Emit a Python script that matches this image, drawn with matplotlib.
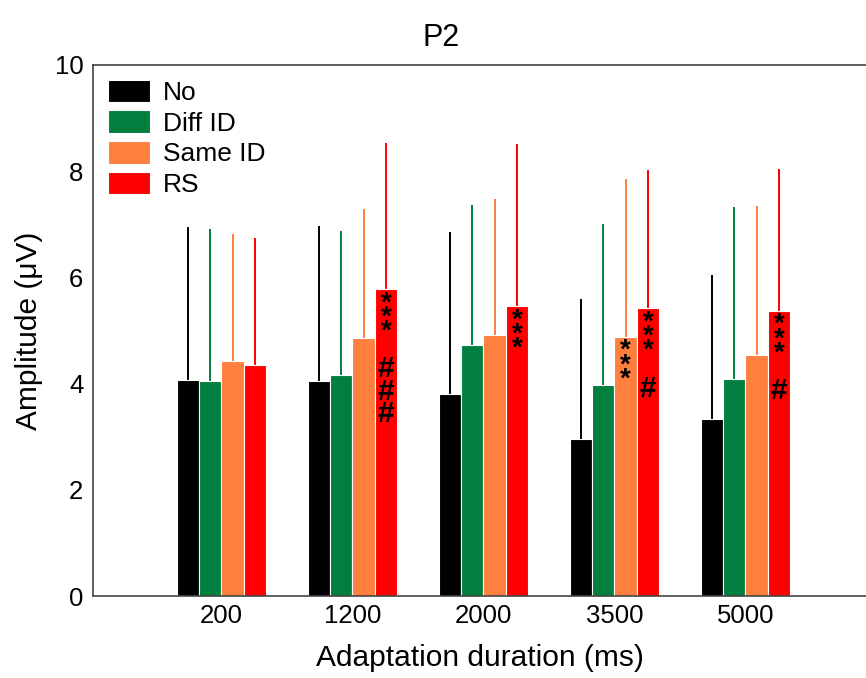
import numpy as np
import matplotlib.pyplot as plt
import matplotlib

matplotlib.rcParams['font.family'] = ['Liberation Sans', 'DejaVu Sans']

# Data
durations = ['200', '1200', '2000', '3500', '5000']
conditions = ['No', 'Diff ID', 'Same ID', 'RS']
colors = ['#000000', '#007f3f', '#ff7f3f', '#ff0000']

no_mean = [4.07, 4.05, 3.80, 2.96, 3.33]
diff_mean = [4.05, 4.16, 4.73, 3.97, 4.08]
same_mean = [4.43, 4.86, 4.92, 4.88, 4.53]
rs_mean = [4.35, 5.78, 5.46, 5.42, 5.37]

no_top = [6.95, 6.97, 6.85, 5.60, 6.05]
diff_top = [6.92, 6.88, 7.37, 7.00, 7.33]
same_top = [6.82, 7.28, 7.48, 7.85, 7.35]
rs_top = [6.74, 8.53, 8.52, 8.02, 8.05]

# significance marks: (duration index, condition index, n stars, n hashes)
marks = [(1, 3, 3, 3), (2, 3, 3, 0), (3, 2, 3, 0), (3, 3, 3, 1), (4, 3, 3, 1)]

means = [no_mean, diff_mean, same_mean, rs_mean]
tops = [no_top, diff_top, same_top, rs_top]

fig = plt.figure(figsize=(8.66, 6.78), dpi=100)
ax = fig.add_axes([93 / 866, 1 - 596 / 678, 1 - 93 / 866, (596 - 65) / 678])

x = np.arange(len(durations))
width = 0.171
offsets = (np.arange(4) - 1.5) * width

for i in range(4):
    m = np.array(means[i])
    err = np.array(tops[i]) - m
    ax.bar(x + offsets[i], m, width, color=colors[i], edgecolor='white',
           linewidth=0.8, label=conditions[i], zorder=2)
    ax.errorbar(x + offsets[i], m, yerr=[np.zeros_like(err), err], fmt='none',
                ecolor=colors[i], elinewidth=1.4, capsize=0, zorder=1)

# stars and hashes stacked vertically inside the bars
for g, c, nstar, nhash in marks:
    xc = x[g] + offsets[c]
    top = means[c][g]
    ax.text(xc, top - 0.02, '\n'.join(['*'] * nstar), ha='center', va='top',
            fontsize=20, fontweight='bold', linespacing=0.42, zorder=3)
    if nhash:
        ax.text(xc, top - 1.25, '\n'.join(['#'] * nhash), ha='center', va='top',
                fontsize=21.5, fontweight='bold', linespacing=0.74, zorder=3)

ax.set_xlim(-0.98, 4.92)
ax.set_ylim(0, 10)
ax.set_xticks(x)
ax.set_xticklabels(durations)
ax.set_yticks([0, 2, 4, 6, 8, 10])
ax.tick_params(axis='both', length=0, labelsize=18.5)
ax.tick_params(axis='y', pad=7)
ax.tick_params(axis='x', pad=6)
ax.spines['right'].set_visible(False)
for s in ['left', 'top', 'bottom']:
    ax.spines[s].set_color('#444444')
    ax.spines[s].set_linewidth(1.2)

ax.set_xlabel('Adaptation duration (ms)', fontsize=21.5, labelpad=11)
ax.set_ylabel('Amplitude (\u03bcV)', fontsize=21.5, labelpad=8)
ax.set_title('P2', fontsize=22, pad=14, x=(441 - 93) / (866 - 93))

ax.legend(loc='upper left', frameon=False, fontsize=19, handlelength=1.6,
          handleheight=0.95, labelspacing=0.2, handletextpad=0.5,
          borderaxespad=0.2, borderpad=0.35)

plt.savefig('out.png', dpi=100)
